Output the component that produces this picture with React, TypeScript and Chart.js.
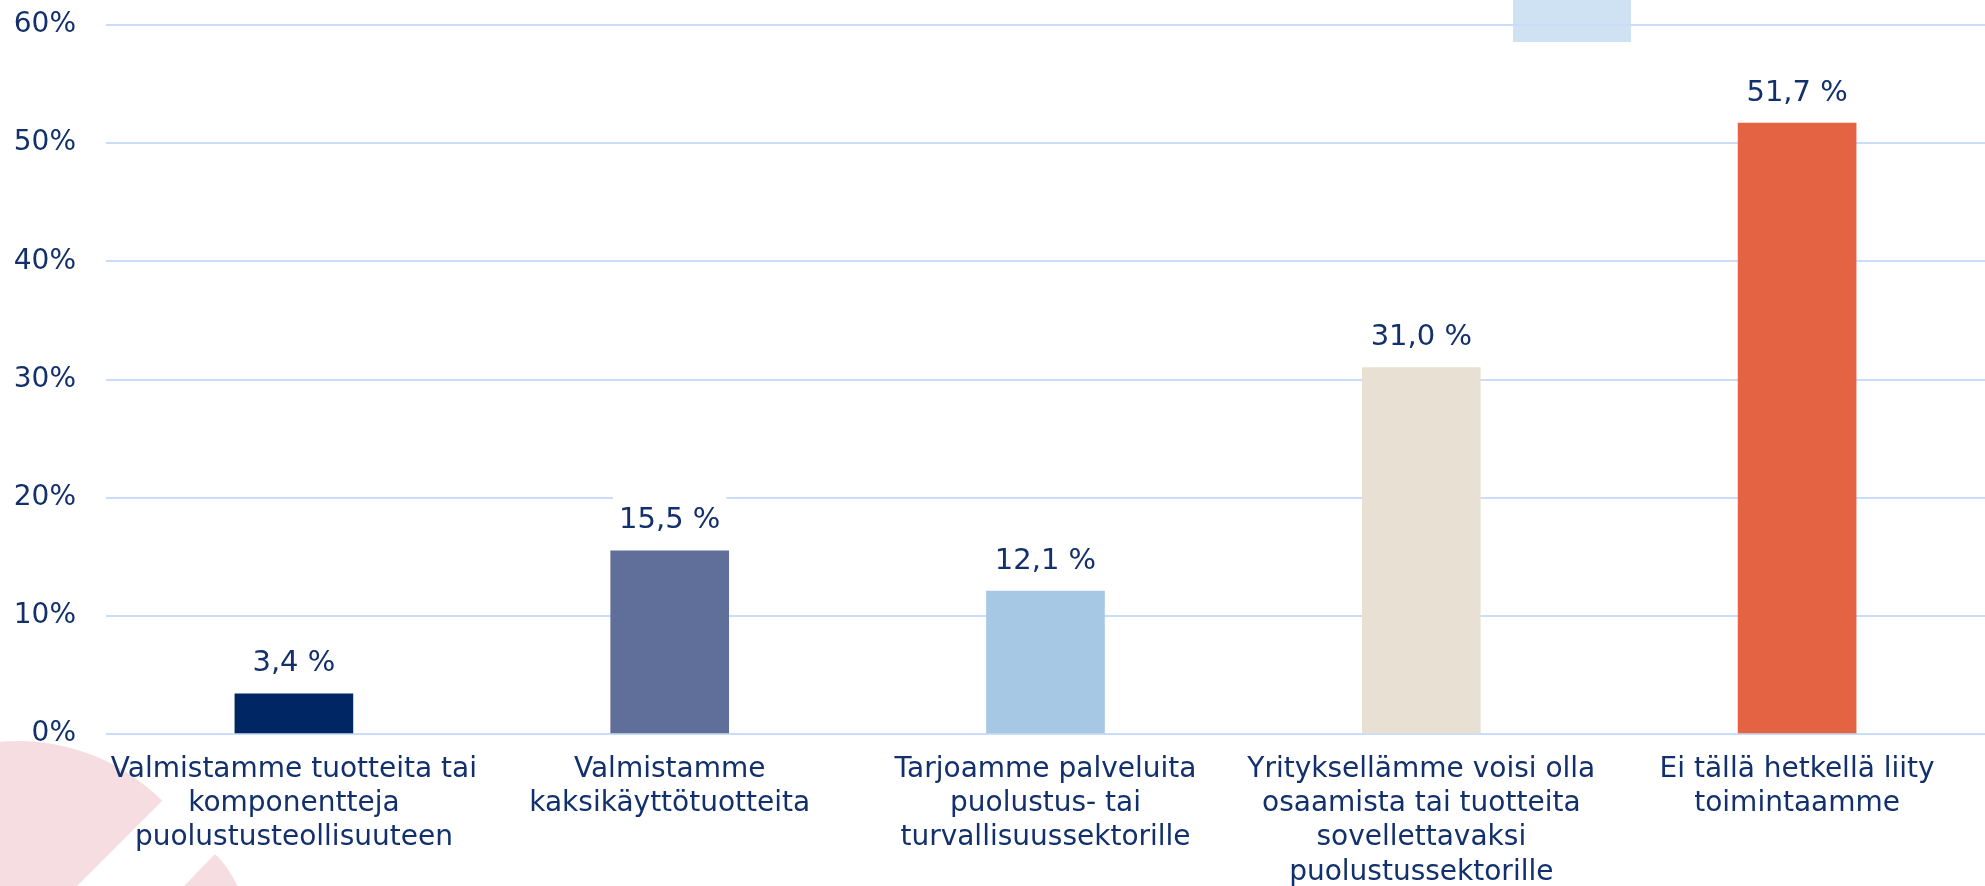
import React, { useEffect, useRef } from "react";
import { Chart, registerables } from "chart.js";

Chart.register(...registerables);

const categories: string[][] = [
  ["Valmistamme tuotteita tai", "komponentteja", "puolustusteollisuuteen"],
  ["Valmistamme", "kaksikäyttötuotteita"],
  ["Tarjoamme palveluita", "puolustus- tai", "turvallisuussektorille"],
  ["Yrityksellämme voisi olla", "osaamista tai tuotteita", "sovellettavaksi", "puolustussektorille"],
  ["Ei tällä hetkellä liity", "toimintaamme"],
];
const values: number[] = [3.4, 15.5, 12.1, 31.0, 51.7];
const valueLabels: string[] = ["3,4 %", "15,5 %", "12,1 %", "31,0 %", "51,7 %"];
const barColors: string[] = ["#002663", "#5F6F99", "#A7C8E5", "#E7E0D3", "#E36342"];
const yMin = 0;
const yMax = 60;
const yStep = 10;

const TEXT = "#12306B";
const FONT = "'DejaVu Sans', sans-serif";
const W = 1985;
const H = 886;

const decorPlugin = {
  id: "decor",
  beforeDraw(chart: any) {
    const ctx = chart.ctx as CanvasRenderingContext2D;
    ctx.save();
    ctx.fillStyle = "#F6DDE2";
    ctx.beginPath();
    const cx = 18, cy = 945, r = 204;
    ctx.moveTo(cx, cy);
    ctx.arc(cx, cy, r, -Math.PI / 4, -Math.PI * 0.95, true);
    ctx.closePath();
    ctx.fill();
    ctx.beginPath();
    ctx.moveTo(183, 887);
    ctx.lineTo(215, 854);
    ctx.quadraticCurveTo(228, 866, 238, 887);
    ctx.closePath();
    ctx.fill();
    ctx.fillStyle = "#CFE2F3";
    ctx.fillRect(1513, 0, 118, 42);
    ctx.restore();
  },
};

const valueLabelPlugin = {
  id: "valueLabels",
  afterDatasetsDraw(chart: any) {
    const ctx = chart.ctx as CanvasRenderingContext2D;
    const meta = chart.getDatasetMeta(0);
    ctx.save();
    ctx.font = `29px ${FONT}`;
    ctx.textAlign = "center";
    ctx.textBaseline = "middle";
    meta.data.forEach((el: any, i: number) => {
      const text = valueLabels[i];
      const x = el.x;
      const y = el.y - 30;
      const w = ctx.measureText(text).width;
      ctx.fillStyle = "#FFFFFF";
      ctx.fillRect(x - w / 2 - 6, y - 27, w + 12, 47);
      ctx.fillStyle = TEXT;
      ctx.fillText(text, x, y);
    });
    ctx.restore();
  },
};

export default function App() {
  const ref = useRef<HTMLCanvasElement | null>(null);
  useEffect(() => {
    if (!ref.current) return;
    const chart = new Chart(ref.current, {
      type: "bar",
      data: {
        labels: categories,
        datasets: [
          {
            data: values,
            backgroundColor: barColors,
            borderWidth: 0,
            barThickness: 118,
          },
        ],
      },
      options: {
        animation: false,
        responsive: false,
        devicePixelRatio: 1,
        layout: { padding: { top: 25, right: 0, left: 0, bottom: 0 } },
        plugins: {
          legend: { display: false },
          tooltip: { enabled: false },
        },
        scales: {
          x: {
            grid: { display: false, drawTicks: false },
            border: { display: false },
            ticks: {
              color: TEXT,
              font: { family: FONT, size: 28, lineHeight: 1.23 },
              padding: 18,
              maxRotation: 0,
              autoSkip: false,
            },
            afterFit: (scale: any) => {
              scale.height = 152;
            },
          },
          y: {
            min: yMin,
            max: yMax,
            grid: {
              color: "#C9DDF9",
              lineWidth: 2,
              drawTicks: true,
              tickLength: 30,
              tickColor: "rgba(0,0,0,0)",
            },
            border: { display: false },
            ticks: {
              stepSize: yStep,
              color: TEXT,
              font: { family: FONT, size: 28 },
              padding: 0,
              callback: (v: any) => `${v}%`,
            },
            afterFit: (scale: any) => {
              scale.width = 106;
            },
          },
        },
      },
      plugins: [decorPlugin, valueLabelPlugin],
    });
    return () => chart.destroy();
  }, []);
  return (
    <div style={{ position: "fixed", left: 0, top: 0, width: W, height: H, background: "#FFFFFF" }}>
      <canvas ref={ref} width={W} height={H} style={{ display: "block", width: W, height: H }} />
    </div>
  );
}
